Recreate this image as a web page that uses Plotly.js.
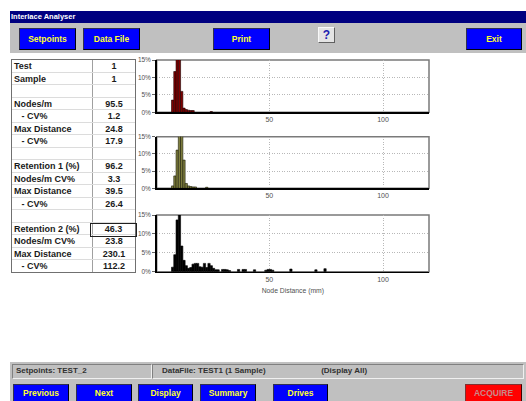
<!DOCTYPE html>
<html>
<head>
<meta charset="utf-8">
<script src="https://cdn.plot.ly/plotly-3.0.1.min.js"></script>
<style>
  html, body { margin:0; padding:0; width:526px; height:401px; overflow:hidden; background:#fff;
    font-family:"Liberation Sans", Arial, sans-serif; }
  .abs { position:absolute; box-sizing:border-box; }
  .btn { position:absolute; box-sizing:border-box; background:#0000ff; color:#ffff30; font-weight:bold;
    font-size:8.5px; display:flex; align-items:center; justify-content:center;
    border:1px solid; border-color:#303050 #000010 #000010 #303050; }
  .gray { background:#c0c0c0; }
  .panel { position:absolute; box-sizing:border-box; border:1px solid; border-color:#808080 #f0f0f0 #f0f0f0 #808080;
    font-size:8px; font-weight:bold; color:#303030; line-height:12px; white-space:pre; }
  .row { position:absolute; left:0; width:123px; height:12.5px; border-bottom:1px solid #dcdcdc; box-sizing:border-box; }
  .lab { position:absolute; font-size:9px; font-weight:bold; color:#1a1a1a; line-height:12px; white-space:pre; }
  .val { position:absolute; left:81px; width:42px; text-align:center; font-size:9px; font-weight:bold; color:#1a1a1a; line-height:12px; }
  #chart { position:absolute; left:0; top:0; width:526px; height:401px; }
</style>
</head>
<body>
<div class="abs" style="left:10px;top:11px;width:516px;height:12px;background:#000080;color:#fff;font-weight:bold;font-size:7.5px;line-height:12px;padding-left:1px;">Interlace Analyser</div>
<div class="abs gray" style="left:10px;top:23px;width:516px;height:30px;"></div>
<div id="topButtons"></div>
<div class="abs" style="left:318px;top:27px;width:17px;height:16px;background:#e4e4e4;border:1px solid;border-color:#f8f8f8 #606060 #606060 #f8f8f8;color:#2020b0;font-weight:bold;font-size:12px;text-align:center;line-height:14px;">?</div>

<div class="abs" id="statTable" style="left:11px;top:59px;width:125px;height:214px;border:1px solid #707070;background:#fff;"></div>

<div class="abs gray" style="left:10px;top:362px;width:516px;height:39px;"></div>
<div class="panel" style="left:12px;top:364px;width:140px;height:15px;padding-left:3px;">Setpoints: TEST_2</div>
<div class="panel" style="left:152px;top:364px;width:372px;height:15px;padding-left:9px;">DataFile: TEST1 (1 Sample)                         (Display All)</div>
<div id="bottomButtons"></div>

<div id="chart"></div>

<script>
// ---- table data ----
var statLabels = ['Test','Sample','','Nodes/m','   - CV%','Max Distance','   - CV%','','Retention 1 (%)','Nodes/m CV%','Max Distance','   - CV%','','Retention 2 (%)','Nodes/m CV%','Max Distance','   - CV%'];
var statValues = ['1','1','','95.5','1.2','24.8','17.9','','96.2','3.3','39.5','26.4','','46.3','23.8','230.1','112.2'];

// ---- button labels ----
var topButtonLabels = ['Setpoints','Data File','Print','Exit'];
var bottomButtonLabels = ['Previous','Next','Display','Summary','Drives','ACQUIRE'];

// ---- histogram data (bin start in mm, % of nodes) ----
var bins1 = [7,8,9,10,11,12,13,14,15,16,24];
var pct1  = [3.5,11.7,19.5,17.2,6.0,1.2,0.8,0.6,0.5,0.5,0.2];
var bins2 = [7,8,9,10,11,12,13,14,15,16,17,22];
var pct2  = [0.7,3.6,11.1,18.4,16.5,8.2,1.4,0.7,0.5,0.4,0.4,0.3];
var bins3 = [7,8,9,10,11,12,13,14,15,16,17,18,19,20,21,22,23,24,25,26,27,29,30,31,32,36,38,39,43,48,49,50,51,59,70,74];
var pct3  = [1.2,4.5,13.7,15.6,6.8,3.0,1.6,0.9,1.1,2.0,2.2,2.2,1.3,1.2,2.2,1.1,2.2,1.6,0.9,0.5,0.5,0.6,0.6,0.5,0.3,0.6,0.6,0.6,0.5,0.4,0.6,0.6,0.4,0.7,0.5,0.8];
var yTickVals = [0,5,10,15];
var yTickText = ['0%','5%','10%','15%'];
var xTickVals = [50,100];
var xTickText = ['50','100'];

// build table
var tbl = document.getElementById('statTable');
var div = document.createElement('div');
div.className = 'abs'; div.style.cssText = 'left:80px;top:0;width:1px;height:212px;background:#a0a0a0;';
tbl.appendChild(div);
statLabels.forEach(function(l, i){
  var r = document.createElement('div'); r.className='row'; r.style.top = (i*12.5)+'px';
  if (i === statLabels.length-1) r.style.borderBottom = 'none';
  var a = document.createElement('div'); a.className='lab'; a.style.left='2px'; a.textContent=l; r.appendChild(a);
  var v = document.createElement('div'); v.className='val'; v.textContent=statValues[i];
  if (l.indexOf('Retention 2') === 0) { v.style.border='1px solid #202020'; v.style.left='78px'; v.style.width='45px'; v.style.lineHeight='10px'; v.style.height='12px'; }
  r.appendChild(v);
  tbl.appendChild(r);
});

// buttons
var topPos = [[19,57],[83,57],[213,57],[466,56]];
var tb = document.getElementById('topButtons');
topButtonLabels.forEach(function(t,i){
  var b = document.createElement('div'); b.className='btn'; b.textContent=t;
  b.style.left=topPos[i][0]+'px'; b.style.top='28px'; b.style.width=topPos[i][1]+'px'; b.style.height='22px';
  tb.appendChild(b);
});
var botPos = [[13,56],[76,56],[138,55],[200,56],[273,55],[465,57]];
var bb = document.getElementById('bottomButtons');
bottomButtonLabels.forEach(function(t,i){
  var b = document.createElement('div'); b.className='btn'; b.textContent=t;
  b.style.left=botPos[i][0]+'px'; b.style.top='384px'; b.style.width=botPos[i][1]+'px'; b.style.height='18px';
  if (t === 'ACQUIRE') { b.style.background='#ff0000'; b.style.color='#c88888'; b.style.borderColor='#803030 #400000 #400000 #803030'; }
  bb.appendChild(b);
});

// ---- chart ----
var W = 526, H = 401;
function dx(a,b){ return [a/W, b/W]; }
function dy(top,bot){ return [1-bot/H, 1-top/H]; }

function bar(x, y, color, line, xa, ya){
  return { type:'bar', x:x, y:y, width:1, offset:0, xaxis:xa, yaxis:ya,
    marker:{color:color, line:{color:line, width:0.6}}, hoverinfo:'none' };
}
var data = [
  bar(bins1, pct1, '#800000', '#1a0000', 'x', 'y'),
  bar(bins2, pct2, '#808040', '#1a1a05', 'x2', 'y2'),
  bar(bins3, pct3, '#000000', '#000000', 'x3', 'y3')
];

var tf = {color:'#505050', family:'Liberation Sans, Arial'};
function xax(dom, showTitle){
  var o = { domain:dom, range:[0.5,120.2], tickvals:xTickVals, ticktext:xTickText, showgrid:true,
    gridcolor:'#b8b8b8', griddash:'1px,1.5px', gridwidth:1, showline:true, linecolor:'#000', linewidth:1.5,
    ticks:'', zeroline:false, tickfont:Object.assign({size:7}, tf), fixedrange:true };
  if (showTitle) o.title = {text:'Node Distance (mm)', font:Object.assign({size:6.8}, tf), standoff:6};
  return o;
}
function yax(dom){
  return { domain:dom, range:[0,15], tickvals:yTickVals, ticktext:yTickText, showgrid:true,
    gridcolor:'#b8b8b8', griddash:'1px,1.5px', gridwidth:1, showline:true, linecolor:'#000', linewidth:1.5,
    ticks:'outside', ticklen:3, tickcolor:'#666', tickwidth:1, zeroline:false,
    tickfont:Object.assign({size:6.5}, tf), fixedrange:true };
}
var xd = dx(156.7, 429);
var layout = {
  width:W, height:H, margin:{l:0,r:0,t:0,b:0}, showlegend:false, bargap:0,
  paper_bgcolor:'rgba(0,0,0,0)', plot_bgcolor:'#fff',
  xaxis: xax(xd,false), yaxis: yax(dy(60,112.3)),
  xaxis2: Object.assign(xax(xd,false), {anchor:'y2'}), yaxis2: Object.assign(yax(dy(136.7,188.3)), {anchor:'x2'}),
  xaxis3: Object.assign(xax(xd,true), {anchor:'y3'}), yaxis3: Object.assign(yax(dy(215,271.7)), {anchor:'x3'}),
  shapes: [['x','y'],['x2','y2'],['x3','y3']].map(function(p){
    return {type:'rect', xref:p[0]+' domain', yref:p[1]+' domain', x0:0, x1:1, y0:0, y1:1,
      line:{color:'#7a7a7a', width:1.5}, layer:'below'};
  })
};
layout.xaxis.anchor = 'y'; layout.yaxis.anchor = 'x';
Plotly.newPlot('chart', data, layout, {staticPlot:true, displayModeBar:false});
</script>
</body>
</html>
